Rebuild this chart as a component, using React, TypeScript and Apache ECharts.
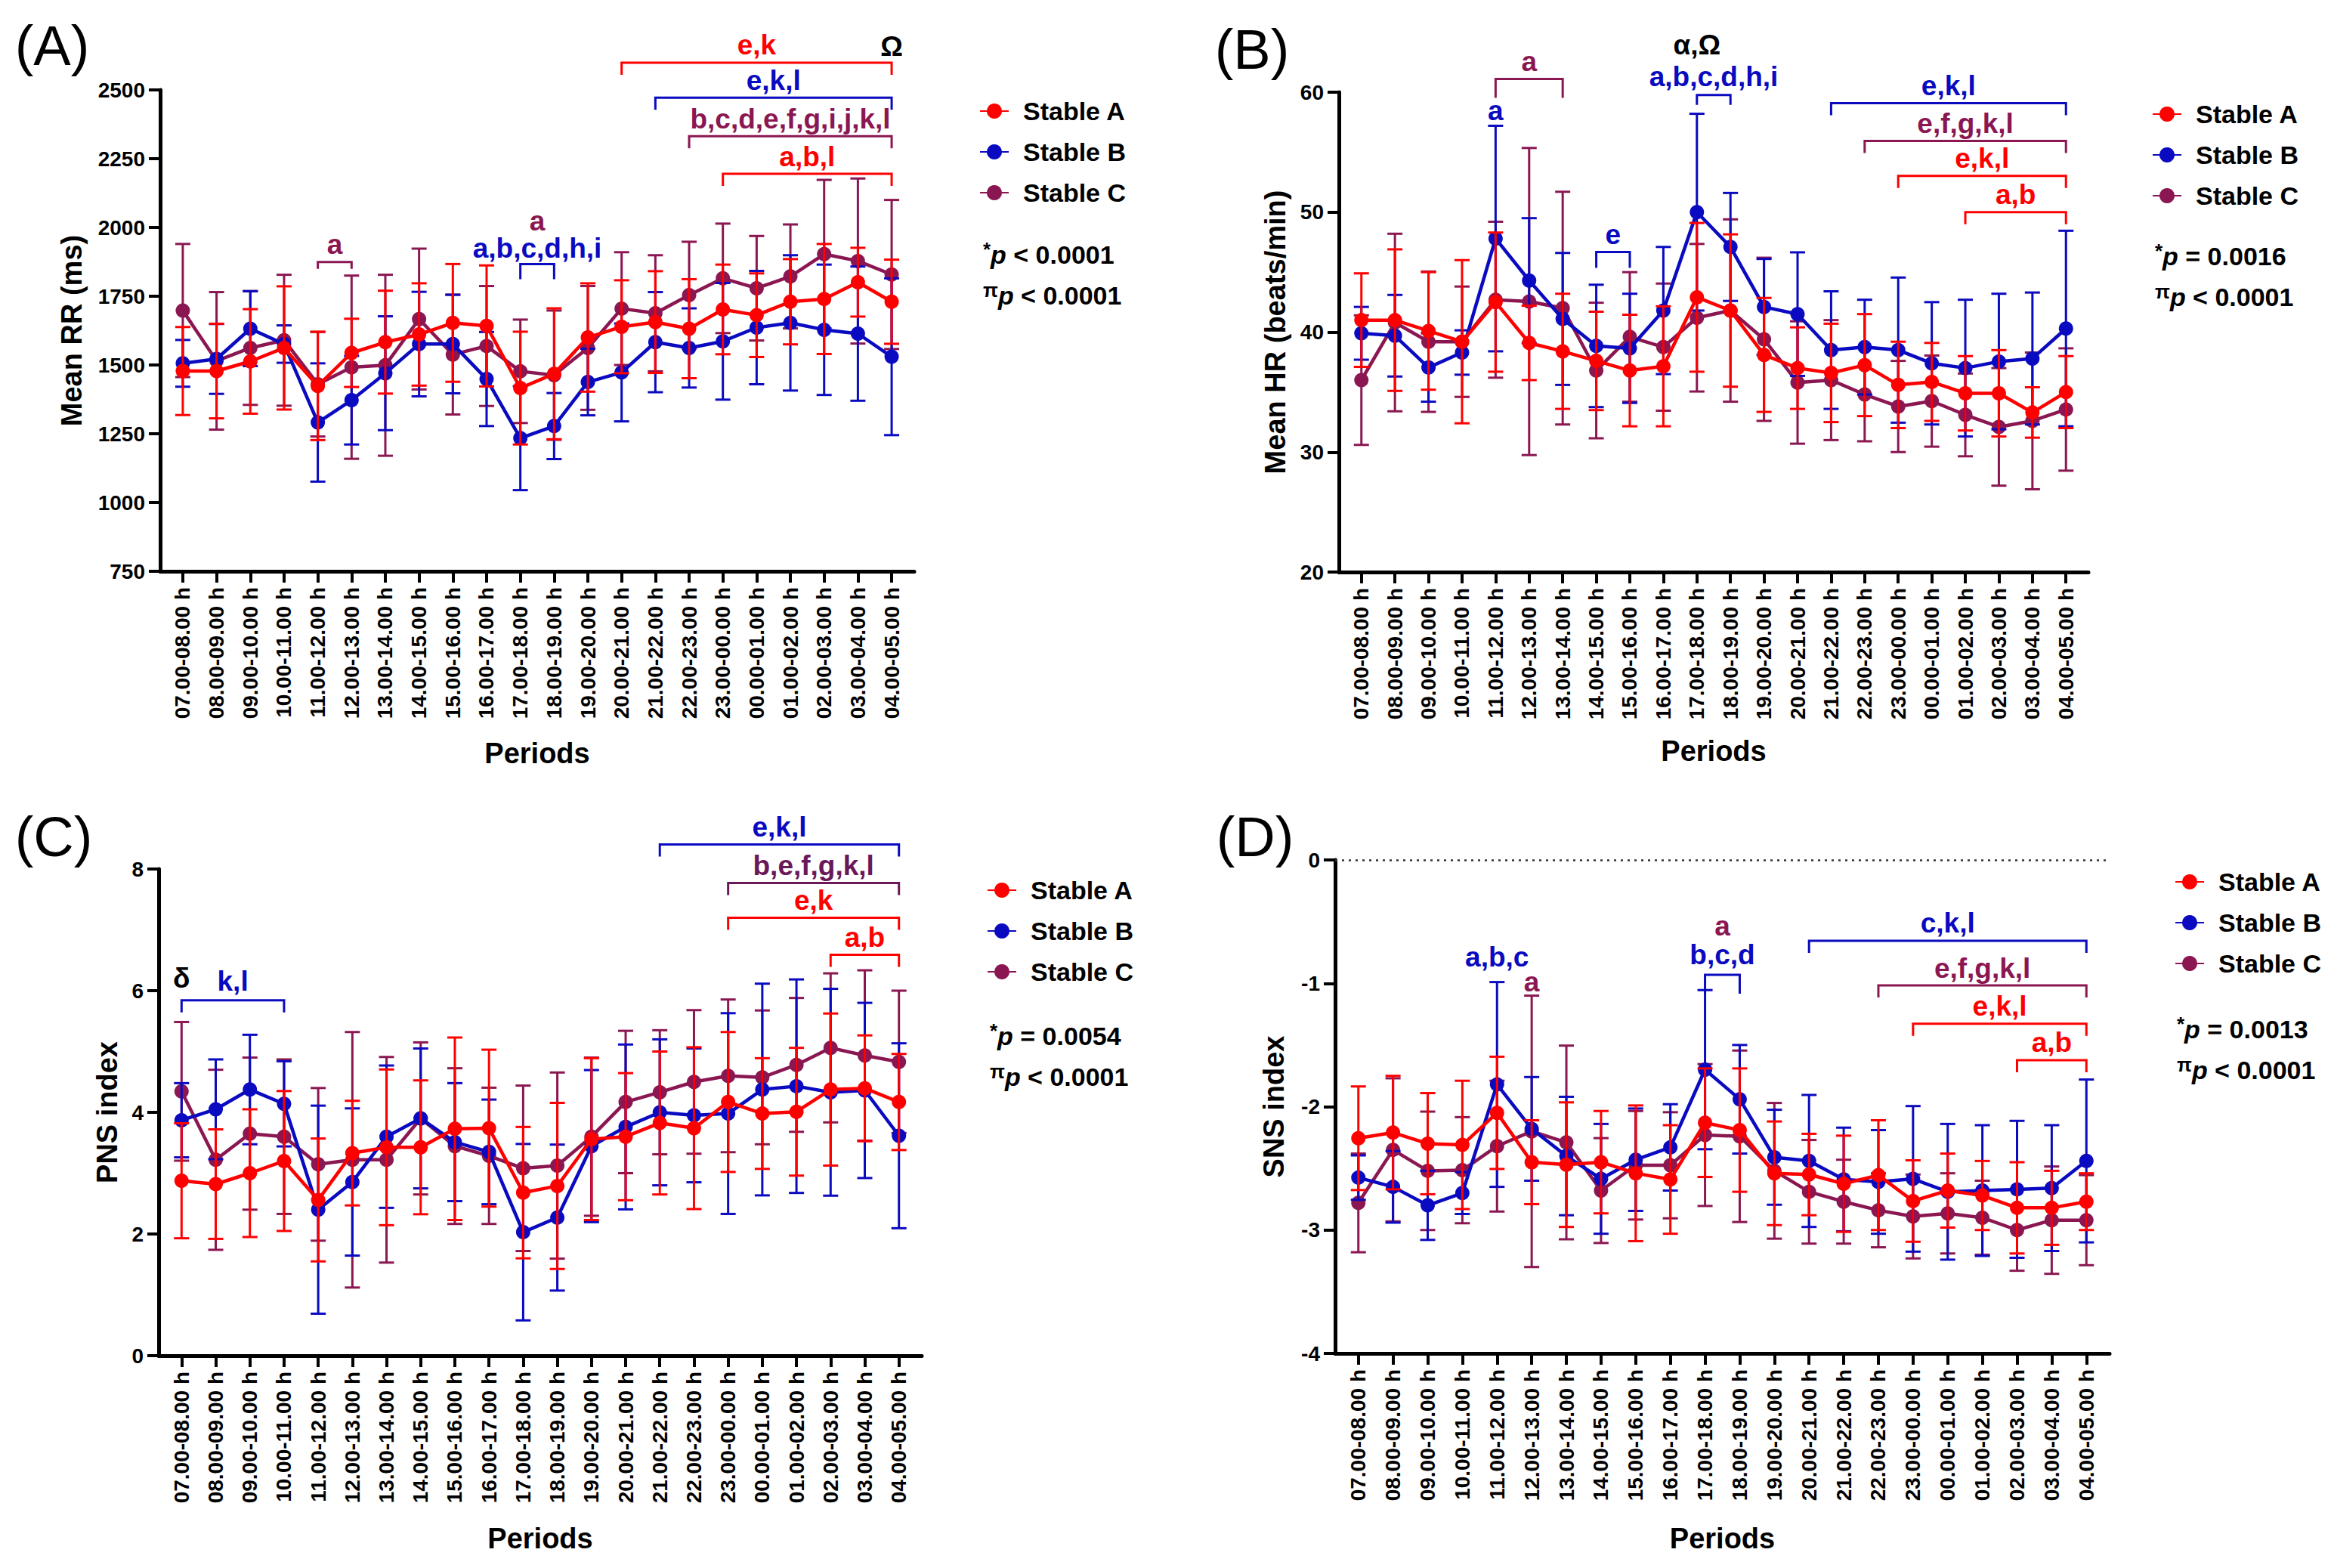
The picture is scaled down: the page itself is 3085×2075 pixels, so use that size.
import React, { useEffect, useRef } from "react";
import * as echarts from "echarts";

// ---------- categories ----------
const periods = [
  "07.00-08.00 h", "08.00-09.00 h", "09.00-10.00 h", "10.00-11.00 h", "11.00-12.00 h",
  "12.00-13.00 h", "13.00-14.00 h", "14.00-15.00 h", "15.00-16.00 h", "16.00-17.00 h",
  "17.00-18.00 h", "18.00-19.00 h", "19.00-20.00 h", "20.00-21.00 h", "21.00-22.00 h",
  "22.00-23.00 h", "23.00-00.00 h", "00.00-01.00 h", "01.00-02.00 h", "02.00-03.00 h",
  "03.00-04.00 h", "04.00-05.00 h",
];
const groupNames = ["Stable A", "Stable B", "Stable C"];

// ---------- (A) Mean RR (ms): mean and SD ----------
const rrMeanA = [1478, 1478, 1513, 1562, 1424, 1544, 1583, 1611, 1653, 1642, 1416, 1468, 1600, 1639, 1656, 1632, 1702, 1681, 1730, 1740, 1801, 1730];
const rrSdA = [160, 172, 190, 224, 197, 124, 187, 186, 214, 220, 205, 238, 197, 169, 185, 180, 163, 152, 155, 200, 125, 153];
const rrMeanB = [1506, 1522, 1632, 1576, 1291, 1372, 1470, 1576, 1576, 1449, 1234, 1278, 1438, 1473, 1583, 1562, 1586, 1636, 1653, 1628, 1614, 1530];
const rrSdB = [85, 127, 136, 68, 215, 161, 207, 190, 179, 171, 189, 120, 121, 178, 182, 144, 212, 206, 246, 237, 244, 285];
const rrMeanC = [1698, 1515, 1562, 1590, 1430, 1492, 1499, 1667, 1538, 1569, 1477, 1463, 1562, 1705, 1688, 1754, 1815, 1779, 1822, 1903, 1878, 1829];
const rrSdC = [242, 250, 207, 238, 190, 333, 329, 256, 218, 218, 188, 235, 225, 205, 211, 194, 199, 190, 189, 270, 300, 271];

// ---------- (B) Mean HR (beats/min) ----------
const hrMeanA = [41.0, 41.0, 40.1, 39.2, 42.5, 39.1, 38.4, 37.6, 36.8, 37.15, 42.9, 41.8, 38.1, 37.0, 36.6, 37.25, 35.6, 35.85, 34.9, 34.9, 33.3, 35.0];
const hrSdA = [3.9, 5.9, 4.9, 6.8, 5.8, 3.1, 4.8, 4.1, 4.65, 5.0, 6.2, 6.35, 4.75, 3.4, 4.1, 4.25, 3.6, 3.25, 3.1, 3.6, 2.1, 3.0];
const hrMeanB = [39.9, 39.7, 37.05, 38.3, 47.8, 44.3, 41.1, 38.85, 38.65, 41.8, 50.0, 47.1, 42.1, 41.5, 38.5, 38.75, 38.5, 37.4, 37.0, 37.55, 37.8, 40.3];
const hrSdB = [2.2, 3.4, 2.85, 1.85, 9.4, 5.2, 5.5, 5.1, 4.55, 5.3, 8.2, 4.5, 4.0, 5.15, 4.9, 3.95, 6.05, 5.1, 5.7, 5.65, 5.5, 8.15];
const hrMeanC = [36.0, 40.8, 39.2, 39.2, 42.7, 42.55, 42.0, 36.8, 39.6, 38.75, 41.2, 41.8, 39.4, 35.8, 36.0, 34.8, 33.8, 34.25, 33.1, 32.1, 32.6, 33.55];
const hrSdC = [5.4, 7.4, 5.85, 4.6, 6.5, 12.8, 9.7, 5.65, 5.4, 5.3, 6.15, 7.6, 6.8, 5.1, 5.0, 3.9, 3.8, 3.8, 3.45, 4.9, 5.7, 5.1];

// ---------- (C) PNS index ----------
const pnsMeanA = [2.875, 2.82, 3.0, 3.2, 2.56, 3.33, 3.425, 3.425, 3.73, 3.74, 2.68, 2.79, 3.56, 3.6, 3.825, 3.74, 4.17, 3.98, 4.01, 4.375, 4.395, 4.17];
const pnsSdA = [0.945, 0.9, 1.05, 1.15, 1.01, 0.86, 1.28, 1.1, 1.5, 1.29, 1.08, 1.365, 1.33, 1.045, 1.175, 1.33, 1.15, 0.91, 1.05, 1.25, 0.87, 0.79];
const pnsMeanB = [3.87, 4.05, 4.375, 4.14, 2.4, 2.855, 3.6, 3.9, 3.51, 3.35, 2.03, 2.27, 3.445, 3.76, 4.0, 3.95, 3.98, 4.375, 4.43, 4.33, 4.36, 3.615];
const pnsSdB = [0.61, 0.82, 0.9, 0.7, 1.71, 1.21, 1.17, 1.15, 0.97, 0.86, 1.45, 1.2, 1.25, 1.355, 1.2, 1.1, 1.65, 1.74, 1.755, 1.7, 1.44, 1.52];
const pnsMeanC = [4.345, 3.22, 3.65, 3.6, 3.145, 3.22, 3.22, 3.9, 3.445, 3.285, 3.08, 3.125, 3.6, 4.17, 4.33, 4.5, 4.6, 4.575, 4.78, 5.06, 4.935, 4.83];
const pnsSdC = [1.14, 1.48, 1.25, 1.27, 1.255, 2.1, 1.69, 1.25, 1.28, 1.12, 1.36, 1.53, 1.3, 1.17, 1.02, 1.18, 1.255, 1.1, 1.1, 1.225, 1.4, 1.17];

// ---------- (D) SNS index ----------
const snsMeanA = [-2.256, -2.21, -2.3, -2.31, -2.05, -2.45, -2.47, -2.45, -2.54, -2.59, -2.13, -2.19, -2.54, -2.55, -2.625, -2.555, -2.765, -2.68, -2.72, -2.82, -2.82, -2.77];
const snsSdA = [0.42, 0.46, 0.41, 0.52, 0.455, 0.34, 0.505, 0.415, 0.55, 0.44, 0.44, 0.5, 0.42, 0.33, 0.39, 0.445, 0.33, 0.3, 0.28, 0.37, 0.3, 0.23];
const snsMeanB = [-2.575, -2.65, -2.8, -2.7, -1.82, -2.18, -2.4, -2.585, -2.43, -2.33, -1.7, -1.94, -2.41, -2.44, -2.59, -2.61, -2.585, -2.69, -2.68, -2.67, -2.66, -2.44];
const snsSdB = [0.18, 0.29, 0.28, 0.17, 0.83, 0.42, 0.48, 0.445, 0.415, 0.35, 0.645, 0.44, 0.385, 0.535, 0.42, 0.42, 0.59, 0.55, 0.53, 0.555, 0.51, 0.66];
const snsMeanC = [-2.78, -2.35, -2.52, -2.515, -2.32, -2.2, -2.29, -2.68, -2.475, -2.475, -2.23, -2.24, -2.52, -2.69, -2.77, -2.84, -2.89, -2.865, -2.9, -3.0, -2.92, -2.92];
const snsSdC = [0.4, 0.58, 0.48, 0.43, 0.53, 1.1, 0.785, 0.425, 0.44, 0.43, 0.575, 0.695, 0.55, 0.42, 0.34, 0.3, 0.34, 0.325, 0.3, 0.33, 0.435, 0.365];

// ---------- p-values ----------
const pStar = ["< 0.0001", "= 0.0016", "= 0.0054", "= 0.0013"];
const pPi = ["< 0.0001", "< 0.0001", "< 0.0001", "< 0.0001"];

// ---------- significance annotations (category index range, level in axis units) ----------
const RED = "#FF0000";
const BLUE = "#0A0AC0";
const PURPLE = "#8B1752";
const DPURPLE = "#6A1858";
const BLACK = "#000000";
const COLORS = [RED, BLUE, PURPLE];

const rrBrackets = [
  { text: "e,k", color: RED, x0: 13, x1: 21, y: 2599 },
  { text: "e,k,l", color: BLUE, x0: 14, x1: 21, y: 2472 },
  { text: "b,c,d,e,f,g,i,j,k,l", color: PURPLE, x0: 15, x1: 21, y: 2332 },
  { text: "a,b,l", color: RED, x0: 16, x1: 21, y: 2195 },
  { text: "a", color: PURPLE, x0: 4, x1: 5, y: 1874, leg: 9 },
  { text: "a,b,c,d,h,i", color: BLUE, x0: 10, x1: 11, y: 1867, leg: 20, gap: 21 },
];
const rrLabels = [
  { text: "Ω", color: BLACK, x: 21, y: 2659 },
  { text: "a", color: PURPLE, x: 10.5, y: 2022 },
];
const hrBrackets = [
  { text: "a", color: PURPLE, x0: 4, x1: 6, y: 61.1, leg: 25 },
  { text: "a,b,c,d,h,i", color: BLUE, x0: 10, x1: 11, y: 59.77, leg: 13, gap: 24 },
  { text: "e", color: BLUE, x0: 7, x1: 8, y: 46.67, leg: 21 },
  { text: "e,k,l", color: BLUE, x0: 14, x1: 21, y: 59.08 },
  { text: "e,f,g,k,l", color: PURPLE, x0: 15, x1: 21, y: 55.93 },
  { text: "e,k,l", color: RED, x0: 16, x1: 21, y: 53.03 },
  { text: "a,b", color: RED, x0: 18, x1: 21, y: 50.0 },
];
const hrLabels = [
  { text: "a", color: BLUE, x: 4, y: 58.45 },
  { text: "α,Ω", color: BLACK, x: 10, y: 63.93 },
];
const pnsBrackets = [
  { text: "k,l", color: BLUE, x0: 0, x1: 3, y: 5.843, gap: 25 },
  { text: "e,k,l", color: BLUE, x0: 14, x1: 21, y: 8.404 },
  { text: "b,e,f,g,k,l", color: DPURPLE, x0: 16, x1: 21, y: 7.77 },
  { text: "e,k", color: RED, x0: 16, x1: 21, y: 7.198 },
  { text: "a,b", color: RED, x0: 19, x1: 21, y: 6.589 },
];
const pnsLabels = [{ text: "δ", color: BLACK, x: 0, y: 6.204 }];
const snsBrackets = [
  { text: "b,c,d", color: BLUE, x0: 10, x1: 11, y: -0.931, leg: 25, gap: 26 },
  { text: "c,k,l", color: BLUE, x0: 13, x1: 21, y: -0.655 },
  { text: "e,f,g,k,l", color: PURPLE, x0: 15, x1: 21, y: -1.017 },
  { text: "e,k,l", color: RED, x0: 16, x1: 21, y: -1.327 },
  { text: "a,b", color: RED, x0: 19, x1: 21, y: -1.623 },
];
const snsLabels = [
  { text: "a,b,c", color: BLUE, x: 4, y: -0.79 },
  { text: "a", color: PURPLE, x: 5, y: -0.992 },
  { text: "a", color: PURPLE, x: 10.5, y: -0.539 },
];

// ---------- layout ----------
const FONT = "'Liberation Sans', Arial, Helvetica, sans-serif";
const panels = [
  {
    title: "(A)", titleX: 69, titleY: 60, left: 212, top: 119, width: 998, height: 637,
    yMin: 750, yMax: 2500, yStep: 250, yName: "Mean RR (ms)", yNameGap: 98, xNameGap: 222,
    groups: [[rrMeanA, rrSdA], [rrMeanB, rrSdB], [rrMeanC, rrSdC]],
    brackets: rrBrackets, labels: rrLabels, legendX: 1310, legendY: 146, pX: 1301, pY: 337,
  },
  {
    title: "(B)", titleX: 1657, titleY: 65, left: 1772, top: 122, width: 992, height: 635,
    yMin: 20, yMax: 60, yStep: 10, yName: "Mean HR (beats/min)", yNameGap: 65, xNameGap: 218,
    groups: [[hrMeanA, hrSdA], [hrMeanB, hrSdB], [hrMeanC, hrSdC]],
    brackets: hrBrackets, labels: hrLabels, legendX: 2862, legendY: 150, pX: 2852, pY: 339,
  },
  {
    title: "(C)", titleX: 71, titleY: 1107, left: 210, top: 1150, width: 1010, height: 644,
    yMin: 0, yMax: 8, yStep: 2, yName: "PNS index", yNameGap: 49, xNameGap: 223,
    groups: [[pnsMeanA, pnsSdA], [pnsMeanB, pnsSdB], [pnsMeanC, pnsSdC]],
    brackets: pnsBrackets, labels: pnsLabels, legendX: 1320, legendY: 1177, pX: 1310, pY: 1371,
  },
  {
    title: "(D)", titleX: 1661, titleY: 1107, left: 1767, top: 1138, width: 1025, height: 653,
    yMin: -4, yMax: 0, yStep: 1, yName: "SNS index", yNameGap: 62, xNameGap: 226,
    groups: [[snsMeanA, snsSdA], [snsMeanB, snsSdB], [snsMeanC, snsSdC]],
    brackets: snsBrackets, labels: snsLabels, legendX: 2892, legendY: 1166, pX: 2881, pY: 1362,
  },
];

const idxs = periods.map((_, i) => i);

function buildOption() {
  const grid: any[] = [];
  const xAxis: any[] = [];
  const yAxis: any[] = [];
  const series: any[] = [];
  const legend: any[] = [];
  const graphic: any[] = [];

  panels.forEach((p, pi) => {
    grid.push({ left: p.left, top: p.top, width: p.width, height: p.height, containLabel: false });
    xAxis.push({
      type: "value", gridIndex: pi, min: -0.67, max: 21.67,
      axisLine: { show: true, onZero: false, lineStyle: { color: "#000", width: 5 } },
      axisTick: { show: true, length: 15, lineStyle: { color: "#000", width: 4 }, customValues: idxs },
      axisLabel: {
        customValues: idxs, rotate: 90, margin: 21,
        formatter: (v: number) => periods[Math.round(v)] ?? "",
        fontSize: 28, fontWeight: "bold", color: "#000", fontFamily: FONT,
      },
      splitLine: { show: false },
      name: "Periods", nameLocation: "middle", nameGap: p.xNameGap,
      nameTextStyle: { fontSize: 38, fontWeight: "bold", color: "#000", fontFamily: FONT },
    });
    yAxis.push({
      type: "value", gridIndex: pi, min: p.yMin, max: p.yMax, interval: p.yStep,
      axisLine: { show: true, onZero: false, lineStyle: { color: "#000", width: 5 } },
      axisTick: { show: true, length: 15, lineStyle: { color: "#000", width: 4 } },
      axisLabel: {
        fontSize: 28, fontWeight: "bold", color: "#000", fontFamily: FONT, margin: 20,
        formatter: (v: number) => String(v),
      },
      splitLine: { show: false },
      name: p.yName, nameLocation: "middle", nameRotate: 90, nameGap: p.yNameGap,
      nameTextStyle: { fontSize: 38, fontWeight: "bold", color: "#000", fontFamily: FONT },
    });

    // draw order: Stable C, Stable B, Stable A (A on top)
    [2, 1, 0].forEach((g, oi) => {
      const [mean, sd] = p.groups[g];
      const color = COLORS[g];
      series.push({
        type: "custom", name: `sd-${pi}-${g}`, xAxisIndex: pi, yAxisIndex: pi,
        z: 2 + oi * 2, clip: false, silent: true,
        data: mean.map((m, k) => [k, m, sd[k]]),
        encode: { x: 0, y: 1 },
        renderItem: (_params: any, api: any) => {
          const x = api.value(0);
          const m = api.value(1);
          const s = api.value(2);
          const t = api.coord([x, m + s]);
          const b = api.coord([x, m - s]);
          const hw = 10;
          const st = { stroke: color, lineWidth: 3 };
          return {
            type: "group",
            children: [
              { type: "line", shape: { x1: t[0], y1: t[1], x2: b[0], y2: b[1] }, style: st },
              { type: "line", shape: { x1: t[0] - hw, y1: t[1], x2: t[0] + hw, y2: t[1] }, style: st },
              { type: "line", shape: { x1: b[0] - hw, y1: b[1], x2: b[0] + hw, y2: b[1] }, style: st },
            ],
          };
        },
      });
      const line: any = {
        type: "line", name: groupNames[g], xAxisIndex: pi, yAxisIndex: pi, z: 3 + oi * 2,
        data: mean.map((m, k) => [k, m]),
        symbol: "circle", symbolSize: 19, showSymbol: true, silent: true,
        lineStyle: { color, width: 4.5 }, itemStyle: { color },
        emphasis: { disabled: true },
      };
      if (pi === 3 && g === 2) {
        line.markLine = {
          silent: true, symbol: ["none", "none"], label: { show: false },
          lineStyle: { type: [3, 6], color: "#333", width: 2.5 },
          data: [{ yAxis: 0 }],
        };
      }
      series.push(line);
    });

    // brackets with labels
    const br = p.brackets as any[];
    series.push({
      type: "custom", name: `br-${pi}`, xAxisIndex: pi, yAxisIndex: pi, z: 20, clip: false, silent: true,
      data: br.map((b) => [b.x0, b.x1, b.y]),
      encode: { x: [0, 1], y: 2 },
      renderItem: (params: any, api: any) => {
        const b = br[params.dataIndex];
        const p0 = api.coord([api.value(0), api.value(2)]);
        const p1 = api.coord([api.value(1), api.value(2)]);
        const leg = b.leg ?? 16;
        const gap = b.gap ?? 23;
        return {
          type: "group",
          children: [
            {
              type: "polyline",
              shape: { points: [[p0[0], p0[1] + leg], [p0[0], p0[1]], [p1[0], p1[1]], [p1[0], p1[1] + leg]] },
              style: { stroke: b.color, lineWidth: 3, fill: null },
            },
            {
              type: "text", x: (p0[0] + p1[0]) / 2, y: p0[1] - gap,
              style: {
                text: b.text, fill: b.color, fontSize: 37, fontWeight: "bold", fontFamily: FONT,
                align: "center", verticalAlign: "middle",
              },
            },
          ],
        };
      },
    });
    const lb = p.labels as any[];
    series.push({
      type: "custom", name: `lb-${pi}`, xAxisIndex: pi, yAxisIndex: pi, z: 20, clip: false, silent: true,
      data: lb.map((l) => [l.x, l.y]),
      encode: { x: 0, y: 1 },
      renderItem: (params: any, api: any) => {
        const l = lb[params.dataIndex];
        const c = api.coord([api.value(0), api.value(1)]);
        return {
          type: "text", x: c[0], y: c[1],
          style: {
            text: l.text, fill: l.color, fontSize: 37, fontWeight: "bold", fontFamily: FONT,
            align: "center", verticalAlign: "middle",
          },
        };
      },
    });

    legend.push({
      data: groupNames, orient: "vertical", selectedMode: false,
      left: p.legendX - 19, top: p.legendY - 21,
      itemWidth: 38, itemHeight: 25, itemGap: 20,
      formatter: (n: string) => `{g| }{t|${n}}`,
      textStyle: {
        rich: {
          g: { width: 14 },
          t: { fontSize: 34, fontWeight: "bold", color: "#000", fontFamily: FONT },
        },
      },
    });

    graphic.push({
      type: "text", x: p.titleX, y: p.titleY,
      style: { text: p.title, fontSize: 74, fontFamily: FONT, fill: "#000", align: "center", verticalAlign: "middle" },
    });
    const rich = {
      s: { fontSize: 26, fontWeight: "bold", fontFamily: FONT, fill: "#000", verticalAlign: "top", lineHeight: 40 },
      i: { fontSize: 34, fontStyle: "italic", fontWeight: "bold", fontFamily: FONT, fill: "#000", lineHeight: 40 },
      n: { fontSize: 34, fontWeight: "bold", fontFamily: FONT, fill: "#000", lineHeight: 40 },
    };
    graphic.push({
      type: "text", x: p.pX, y: p.pY,
      style: { text: `{s|*}{i|p}{n| ${pStar[pi]}}`, rich, align: "left", verticalAlign: "middle" },
    });
    graphic.push({
      type: "text", x: p.pX, y: p.pY + 54,
      style: { text: `{s|π}{i|p}{n| ${pPi[pi]}}`, rich, align: "left", verticalAlign: "middle" },
    });
  });

  return {
    animation: false,
    backgroundColor: "#ffffff",
    textStyle: { fontFamily: FONT },
    grid, xAxis, yAxis, series, legend, graphic,
  };
}

export default function App() {
  const ref = useRef<HTMLDivElement>(null);
  useEffect(() => {
    if (!ref.current) return;
    const chart = echarts.init(ref.current, undefined, { renderer: "svg" });
    chart.setOption(buildOption() as any);
    return () => chart.dispose();
  }, []);
  return (
    <div
      ref={ref}
      style={{ position: "fixed", left: 0, top: 0, width: 3085, height: 2075, background: "#fff" }}
    />
  );
}
